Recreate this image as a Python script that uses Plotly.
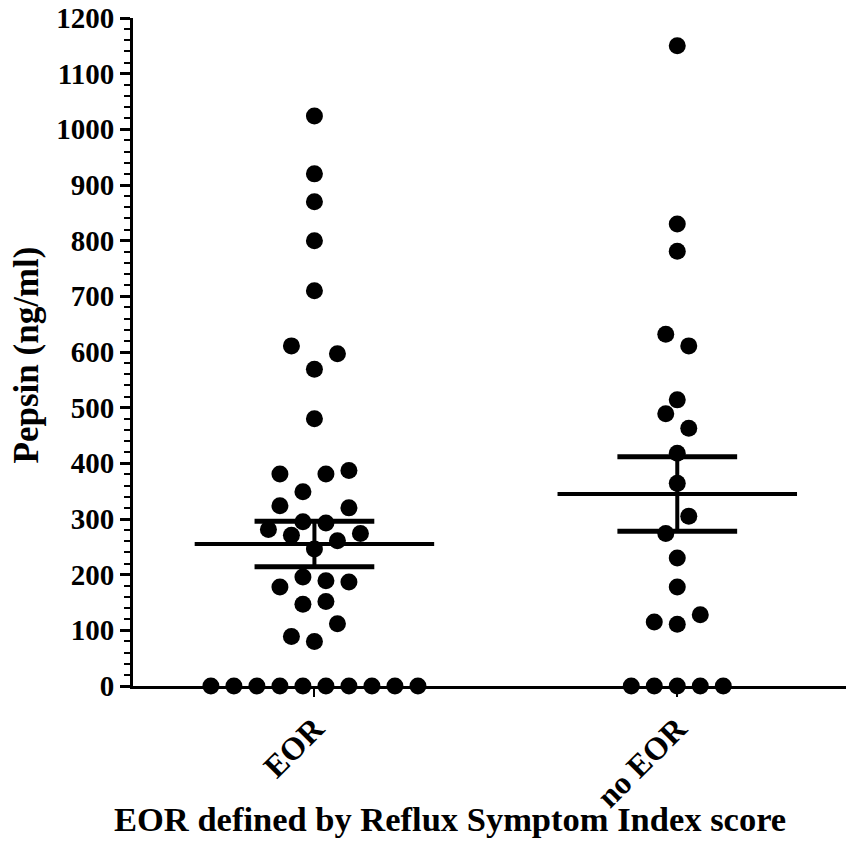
import plotly.graph_objects as go

# ---- data ----
categories = ["EOR", "no EOR"]

eor_values = [1024, 920, 870, 800, 710,
              611, 597, 569, 480,
              381, 381, 387, 349, 324, 320, 295, 293, 281, 271, 274, 261, 246,
              196, 189, 187, 178, 147, 152, 112, 89, 80,
              0, 0, 0, 0, 0, 0, 0, 0, 0, 0]
eor_offsets = [0, 0, 0, 0, 0,
               -1, 1, 0, 0,
               -1.5, 0.5, 1.5, -0.5, -1.5, 1.5, -0.5, 0.5, -2, -1, 2, 1, 0,
               -0.5, 0.5, 1.5, -1.5, -0.5, 0.5, 1, -1, 0,
               -4.5, -3.5, -2.5, -1.5, -0.5, 0.5, 1.5, 2.5, 3.5, 4.5]

noeor_values = [1150, 830, 781, 632, 611, 514, 489, 463, 418, 364, 305, 274,
                230, 178, 115, 111, 128,
                0, 0, 0, 0, 0]
noeor_offsets = [0, 0, 0, -0.5, 0.5, 0, -0.5, 0.5, 0, 0, 0.5, -0.5,
                 0, 0, -1, 0, 1,
                 -2, -1, 0, 1, 2]

group_means = [255, 345]
group_sem = [41, 67]

y_ticks = list(range(0, 1201, 100))

# ---- styling ----
FONT = "Liberation Serif"
STEP = 0.0634          # horizontal spacing of swarm points (x units)
MEAN_HALF = 0.33
SEM_HALF = 0.165

fig = go.Figure()

for gi, (vals, offs) in enumerate([(eor_values, eor_offsets),
                                   (noeor_values, noeor_offsets)]):
    fig.add_trace(go.Scatter(
        x=[gi + o * STEP for o in offs], y=vals,
        mode="markers",
        marker=dict(size=17, color="black", line=dict(width=0)),
        cliponaxis=False, showlegend=False, hoverinfo="y"))

for gi, (m, s) in enumerate(zip(group_means, group_sem)):
    # mean line
    fig.add_trace(go.Scatter(
        x=[gi - MEAN_HALF, gi + MEAN_HALF], y=[m, m], mode="lines",
        line=dict(color="black", width=4), showlegend=False, hoverinfo="skip"))
    # SEM vertical
    fig.add_trace(go.Scatter(
        x=[gi, gi], y=[m - s, m + s], mode="lines",
        line=dict(color="black", width=4), showlegend=False, hoverinfo="skip"))
    # SEM caps
    for yv in (m - s, m + s):
        fig.add_trace(go.Scatter(
            x=[gi - SEM_HALF, gi + SEM_HALF], y=[yv, yv], mode="lines",
            line=dict(color="black", width=5), showlegend=False,
            hoverinfo="skip"))

fig.update_layout(
    width=846, height=849,
    margin=dict(l=133, r=0, t=18, b=163),
    plot_bgcolor="white", paper_bgcolor="white",
    font=dict(family=FONT, color="black", weight="bold"),
)

fig.update_xaxes(
    range=[-0.5, 1.465],
    tickvals=list(range(len(categories))), ticktext=categories,
    tickangle=-45,
    tickfont=dict(family=FONT, size=32, color="black", weight="bold"),
    showline=True, linecolor="black", linewidth=3,
    ticks="outside", ticklen=8, tickwidth=2, tickcolor="black",
    showgrid=False, zeroline=False,
)

fig.update_yaxes(
    range=[0, 1200],
    tickvals=y_ticks,
    tickfont=dict(family=FONT, size=29, color="black", weight="bold"),
    showline=True, linecolor="black", linewidth=3,
    ticks="outside", ticklen=10, tickwidth=3, tickcolor="black",
    minor=dict(ticks="outside", ticklen=6, tickwidth=2, tickcolor="black",
               dtick=20, showgrid=False),
    showgrid=False, zeroline=False,
)

fig.add_annotation(
    text="EOR defined by Reflux Symptom Index score",
    xref="paper", yref="paper", x=0.445, y=-0.199,
    xanchor="center", yanchor="middle", showarrow=False,
    font=dict(family=FONT, size=34.5, color="black", weight="bold"))

fig.add_annotation(
    text="Pepsin (ng/ml)",
    xref="paper", yref="paper", x=-0.149, y=0.496,
    xanchor="center", yanchor="middle", textangle=-90, showarrow=False,
    font=dict(family=FONT, size=35, color="black", weight="bold"))

fig.write_html("out.html")
